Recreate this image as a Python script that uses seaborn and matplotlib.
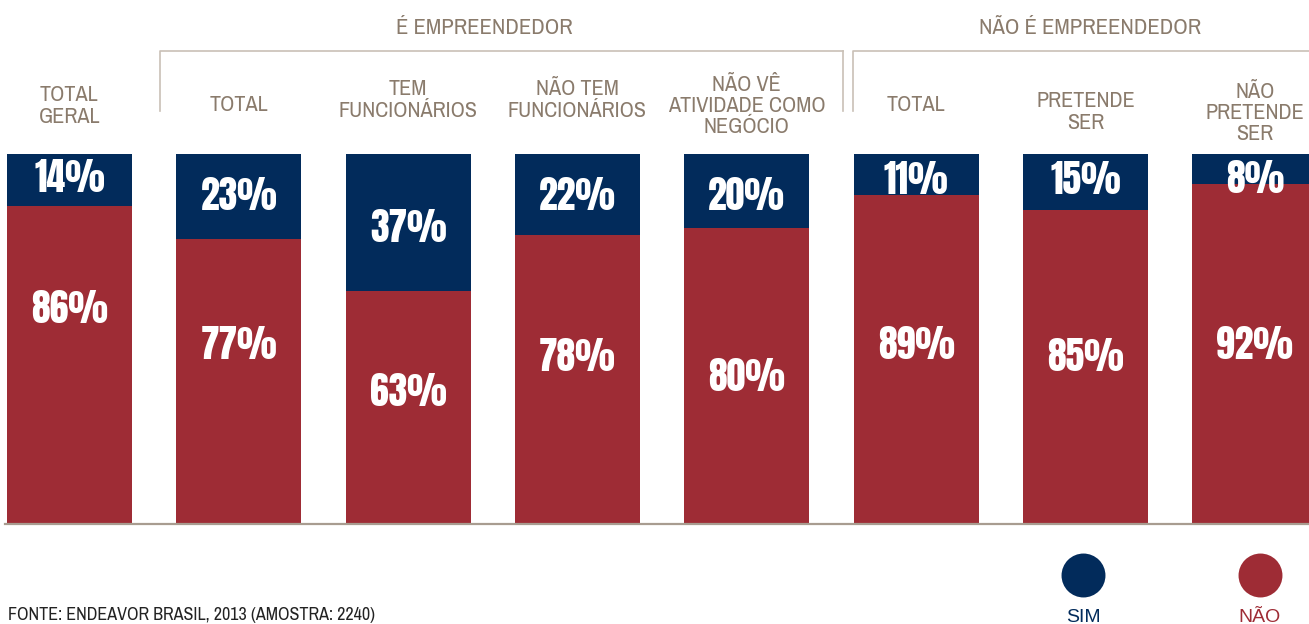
"""Stacked 100% bars: entrepreneurs survey (Endeavor Brasil, 2013)."""

import matplotlib

matplotlib.use("Agg")
import matplotlib.pyplot as plt
import pandas as pd
import seaborn as sns

NAVY = "#022b5b"
RED = "#9e2c35"
LABEL_GREY = "#8a7b6c"
RULE_GREY = "#c9c0b6"
BASE_GREY = "#a89c90"

HEAVY = ["Anton", "DejaVu Sans"]
NARROW = ["Archivo Narrow", "DejaVu Sans"]
REGULAR = ["Liberation Sans", "DejaVu Sans"]

# data
keys = ["c0", "c1", "c2", "c3", "c4", "c5", "c6", "c7"]
labels = [
    "TOTAL\nGERAL",
    "TOTAL",
    "TEM\nFUNCIONÁRIOS",
    "NÃO TEM\nFUNCIONÁRIOS",
    "NÃO VÊ\nATIVIDADE COMO\nNEGÓCIO",
    "TOTAL",
    "PRETENDE\nSER",
    "NÃO\nPRETENDE\nSER",
]
sim = [14, 23, 37, 22, 20, 11, 15, 8]
nao = [86, 77, 63, 78, 80, 89, 85, 92]
groups = ["É EMPREENDEDOR", "NÃO É EMPREENDEDOR"]

# text placement, pixels from the top of the figure
label_y_px = [106, 105, 100, 100, 106, 105, 112, 113]
sim_text_px = [178, 196, 228, 196, 196, 180, 180, 179]
nao_text_px = [309, 345, 392, 357, 377, 345, 357, 345]

W, H = 1309, 624
TOP_PX, BASE_PX = 154, 524

df = pd.DataFrame({"key": keys, "sim": sim, "nao": nao})
df["total"] = df["sim"] + df["nao"]

fig = plt.figure(figsize=(W / 100, H / 100), dpi=100)
ax = fig.add_axes([0, (H - BASE_PX) / H, 1, (BASE_PX - TOP_PX) / H])

sns.barplot(data=df, x="key", y="total", order=keys, color=NAVY,
            saturation=1, width=0.738, linewidth=0, ax=ax)
sns.barplot(data=df, x="key", y="nao", order=keys, color=RED,
            saturation=1, width=0.738, linewidth=0, ax=ax)

ax.set_xlim(-0.41, 7.32)
ax.set_ylim(0, 100)
ax.axis("off")
ax.axhline(0, xmin=5 / W, xmax=1, color=BASE_GREY, linewidth=1.6,
           clip_on=False, zorder=3)


def py(pixel_y):
    """Pixel row (from top) -> axes fraction."""
    return (BASE_PX - pixel_y) / (BASE_PX - TOP_PX)


xt = ax.get_xaxis_transform()

# value labels
for i, (s, n) in enumerate(zip(sim, nao)):
    ax.text(i, py(sim_text_px[i]), f"{s}%", transform=xt, ha="center",
            va="center", color="white", fontsize=27, family=HEAVY)
    ax.text(i, py(nao_text_px[i]), f"{n}%", transform=xt, ha="center",
            va="center", color="white", fontsize=27, family=HEAVY)

# category labels
for i, (lab, ypx) in enumerate(zip(labels, label_y_px)):
    ax.text(i, py(ypx), lab, transform=xt, ha="center", va="center",
            color=LABEL_GREY, fontsize=16, family=NARROW, linespacing=1.08,
            clip_on=False)

# group brackets
for x0, x1 in [(0.535, 4.569), (4.628, 7.4)]:
    ax.plot([x0, x0, x1], [py(111), py(51), py(51)], transform=xt,
            color=RULE_GREY, linewidth=1.2, clip_on=False)
    if x1 < 7.32:
        ax.plot([x1, x1], [py(51), py(111)], transform=xt,
                color=RULE_GREY, linewidth=1.2, clip_on=False)

for xc, name in zip([2.45, 6.03], groups):
    ax.text(xc, py(28), name, transform=xt, ha="center", va="center",
            color=LABEL_GREY, fontsize=16.3, family=NARROW, clip_on=False)

# legend
for xc, name, col in [(5.986, "SIM", NAVY), (7.03, "NÃO", RED)]:
    ax.scatter([xc], [py(575)], transform=xt, s=1000, color=col,
               linewidths=0, clip_on=False)
    ax.text(xc, py(609), name, transform=xt, ha="center", va="top",
            color=col, fontsize=14, family=REGULAR, clip_on=False)

fig.text(8 / W, 1 - 620 / H, "FONTE: ENDEAVOR BRASIL, 2013 (AMOSTRA: 2240)",
         ha="left", va="baseline", color="#222222", fontsize=13, family=NARROW)

fig.savefig("out.png", dpi=100)
plt.close(fig)
